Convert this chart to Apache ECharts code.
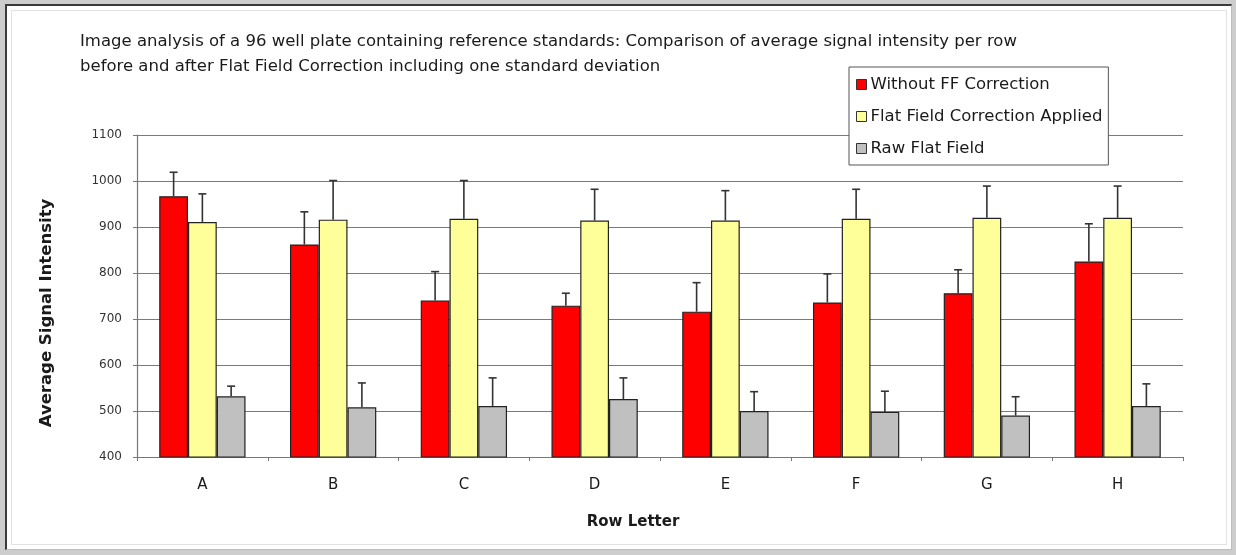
<!DOCTYPE html>
<html>
<head>
<meta charset="utf-8">
<script src="https://cdn.jsdelivr.net/npm/echarts@6/dist/echarts.min.js"></script>
<style>
  html, body { margin: 0; padding: 0; background: #cdcdcd; width: 1236px; height: 555px; overflow: hidden; }
  #frame { position: absolute; left: 5px; top: 4px; width: 1224px; height: 543px; background: #fff;
           border-left: 2px solid #3a3a3a; border-top: 2px solid #3a3a3a; border-right: 1px solid #bdbdbd; border-bottom: 1px solid #bdbdbd; }
  #inner { position: absolute; left: 4px; top: 4px; right: 4px; bottom: 4px; border: 1px solid #e2e2e2; }
  #chart { position: absolute; left: 0; top: 0; width: 1236px; height: 555px; }
</style>
</head>
<body>
<div id="frame"><div id="inner"></div></div>
<div id="chart"></div>
<script>
const categories = ['A', 'B', 'C', 'D', 'E', 'F', 'G', 'H'];
const seriesNames = ['Without FF Correction', 'Flat Field Correction Applied', 'Raw Flat Field'];
const withoutFF = [967, 862, 740, 729, 716, 736, 756, 825];
const withoutFFsd = [52, 71, 63, 27, 63, 62, 51, 82];
const ffApplied = [911, 916, 918, 914, 914, 918, 920, 920];
const ffAppliedSd = [61, 85, 83, 68, 65, 64, 69, 69];
const rawFF = [532, 508, 511, 526, 500, 498, 490, 511];
const rawFFsd = [22, 53, 61, 46, 42, 45, 41, 48];
const yTicks = [400, 500, 600, 700, 800, 900, 1000, 1100];

const colors = ['#ff0000', '#ffff99', '#c0c0c0'];
const catGap = 0.34;
const FONT = 'DejaVu Sans';

const values = [withoutFF, ffApplied, rawFF];
const sds = [withoutFFsd, ffAppliedSd, rawFFsd];

const barSeries = values.map((v, i) => ({
  name: seriesNames[i],
  type: 'bar',
  data: v,
  barGap: '0%',
  barCategoryGap: (catGap * 100) + '%',
  itemStyle: { color: colors[i], borderColor: '#222', borderWidth: 1.2 },
  z: 2
}));

const errSeries = values.map((v, i) => ({
  type: 'custom',
  name: seriesNames[i] + ' SD',
  data: v.map((val, k) => [k, val, sds[i][k]]),
  encode: { x: 0, y: 1 },
  z: 5,
  silent: true,
  renderItem: function (params, api) {
    const bandW = api.size([1, 0])[0];
    const bw = bandW * (1 - catGap) / 3;
    const base = api.coord([api.value(0), api.value(1)]);
    const top = api.coord([api.value(0), api.value(1) + api.value(2)]);
    const x = base[0] + (i - 1) * bw;
    const cap = 4;
    const st = { stroke: '#333', lineWidth: 1.6 };
    return {
      type: 'group',
      children: [
        { type: 'line', shape: { x1: x, y1: base[1], x2: x, y2: top[1] }, style: st },
        { type: 'line', shape: { x1: x - cap, y1: top[1], x2: x + cap, y2: top[1] }, style: st }
      ]
    };
  }
}));

const chart = echarts.init(document.getElementById('chart'), null, { renderer: 'canvas' });
chart.setOption({
  animation: false,
  backgroundColor: 'transparent',
  title: {
    text: 'Image analysis of a 96 well plate containing reference standards: Comparison of average signal intensity per row\nbefore and after Flat Field Correction including one standard deviation',
    left: 75, top: 24,
    textStyle: { fontFamily: FONT, fontSize: 16.5, fontWeight: 'normal', color: '#1a1a1a', lineHeight: 25 }
  },
  legend: {
    left: 849, top: 67,
    orient: 'vertical',
    data: seriesNames,
    icon: 'rect',
    itemWidth: 10, itemHeight: 10,
    itemGap: 15,
    padding: [9, 6, 8, 7],
    backgroundColor: '#fff',
    borderColor: '#555',
    borderWidth: 1,
    z: 10,
    textStyle: { fontFamily: FONT, fontSize: 16.5, color: '#1a1a1a', padding: [0, 0, 0, -1] },
    itemStyle: { borderColor: '#333', borderWidth: 1 }
  },
  grid: { left: 137, right: 53, top: 135, bottom: 98, containLabel: false },
  xAxis: {
    type: 'category',
    data: categories,
    name: 'Row Letter',
    nameLocation: 'middle',
    nameGap: 58,
    nameTextStyle: { fontFamily: FONT, fontSize: 15, fontWeight: 'bold', color: '#1a1a1a', padding: [0, 54, 0, 0] },
    axisLine: { lineStyle: { color: '#777', width: 1.2 } },
    axisTick: { show: true, alignWithLabel: false, length: 4, lineStyle: { color: '#777' } },
    axisLabel: { fontFamily: FONT, fontSize: 15, color: '#1a1a1a', margin: 21 }
  },
  yAxis: {
    type: 'value',
    min: 400, max: 1100, interval: 100,
    name: 'Average Signal Intensity',
    nameLocation: 'middle',
    nameGap: 82,
    nameRotate: 90,
    nameTextStyle: { fontFamily: FONT, fontSize: 16.5, fontWeight: 'bold', color: '#1a1a1a', padding: [0, 0, 0, -34] },
    axisLine: { show: true, lineStyle: { color: '#777', width: 1.2 } },
    axisTick: { show: true, length: 4, lineStyle: { color: '#777' } },
    axisLabel: { fontFamily: FONT, fontSize: 12, color: '#333', margin: 15,
                 formatter: v => (yTicks.indexOf(v) >= 0 ? String(v) : '') },
    splitLine: { show: true, lineStyle: { color: '#7a7a7a', width: 1.2 } }
  },
  series: barSeries.concat(errSeries)
});
</script>
</body>
</html>
